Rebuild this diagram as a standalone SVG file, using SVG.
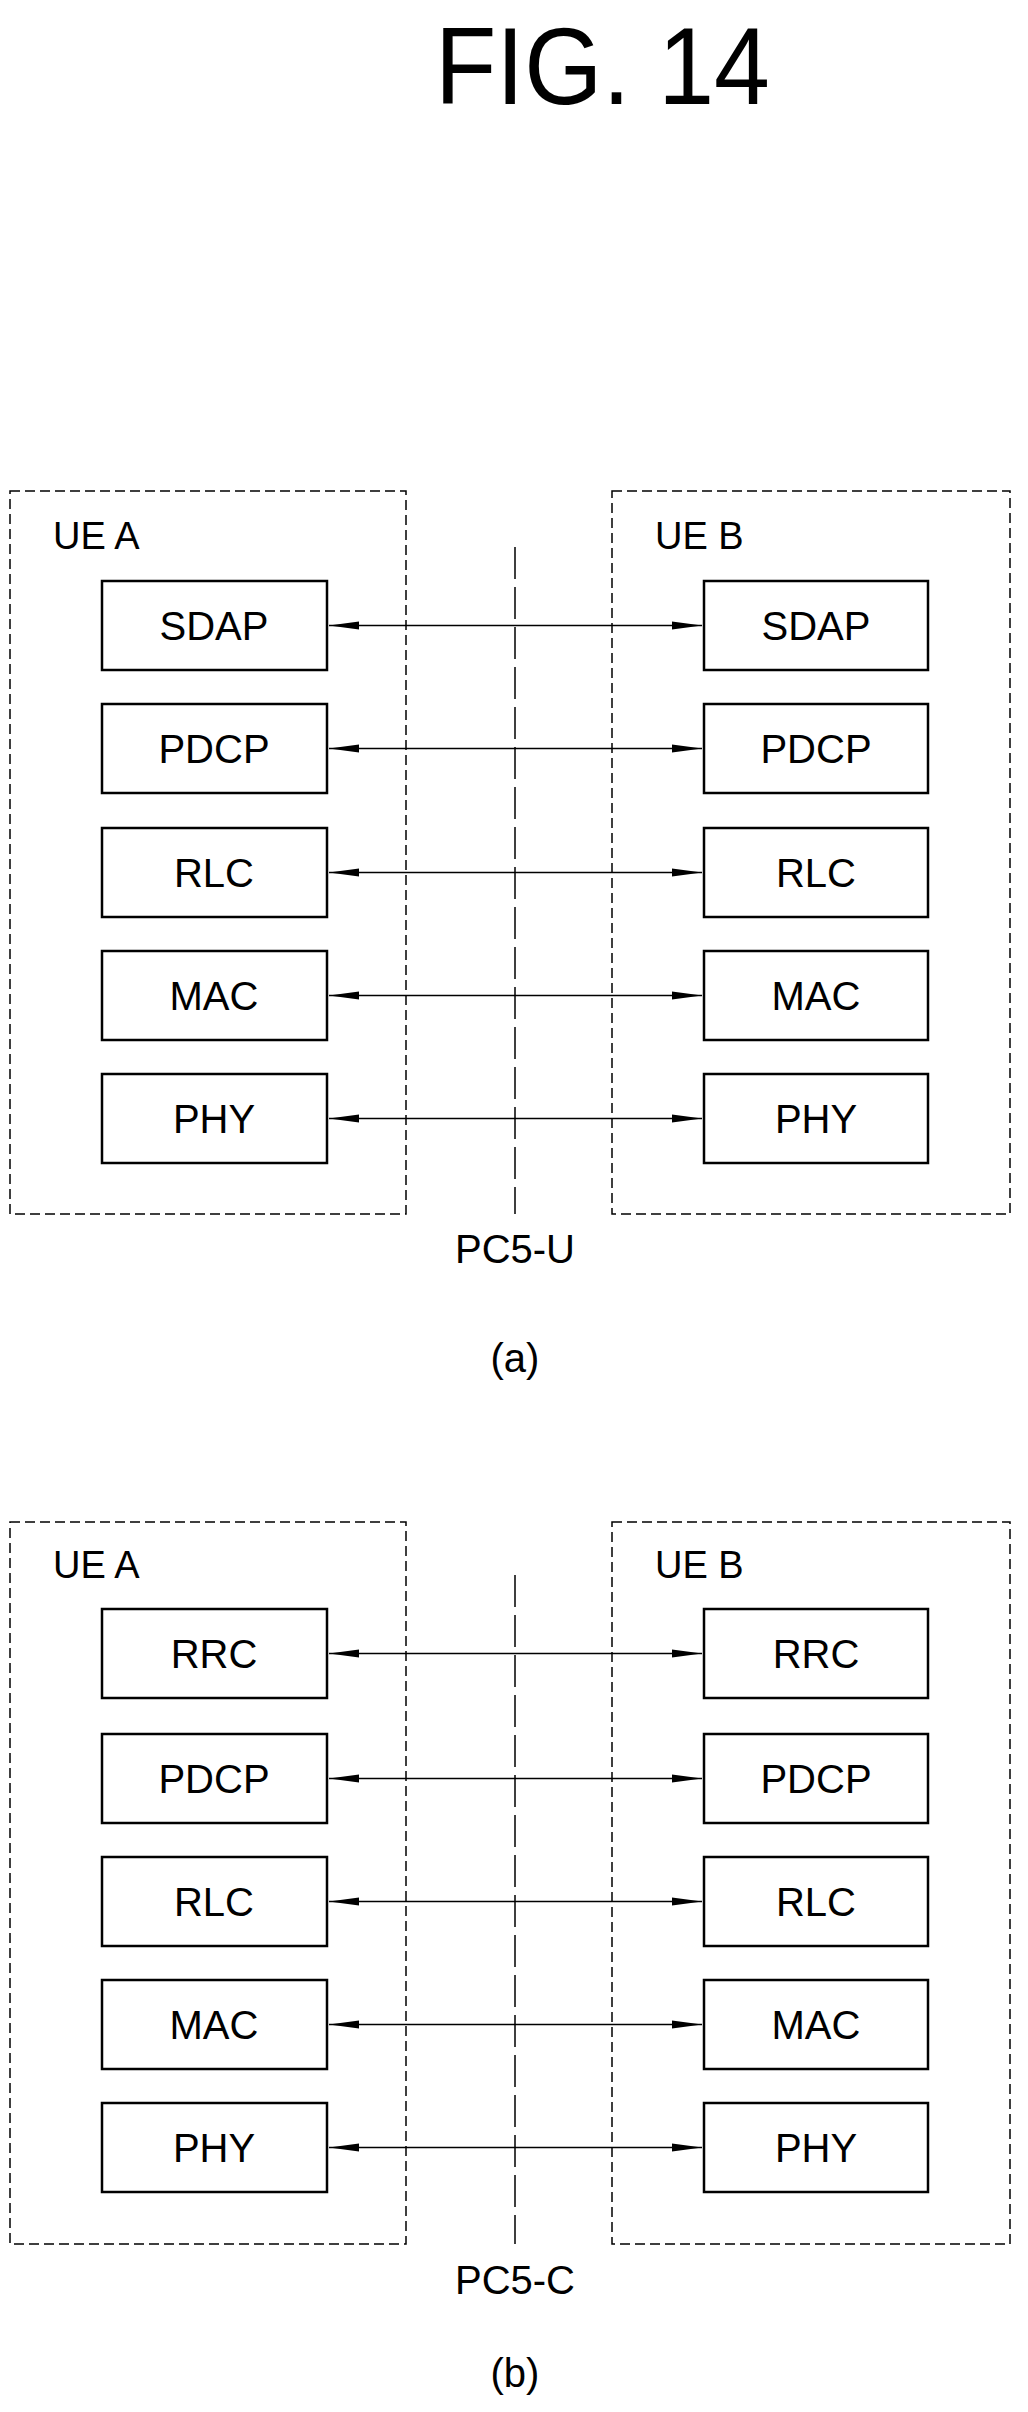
<svg xmlns="http://www.w3.org/2000/svg" width="1028" height="2412" viewBox="0 0 1028 2412">
<style>
text{font-family:"Liberation Sans",Arial,sans-serif;fill:#000}
.ue{fill:none;stroke:#000;stroke-width:1.5;stroke-dasharray:10 5}
.axis{stroke:#000;stroke-width:1.5;stroke-dasharray:32 8}
.box{fill:#fff;stroke:#000;stroke-width:2.5}
.lbl{font-size:40px;text-anchor:middle}
.big{font-size:38px}
.conn{stroke:#000;stroke-width:1.5;marker-start:url(#a);marker-end:url(#a)}
</style>
<defs>
<marker id="a" viewBox="0 0 30 10" refX="30" refY="5" markerWidth="30" markerHeight="10" markerUnits="userSpaceOnUse" orient="auto-start-reverse">
<path d="M0,1 L30,5 L0,9 Z" fill="#000"/>
</marker>
</defs>
<rect width="1028" height="2412" fill="#fff"/>
<text x="435" y="104" font-size="110" textLength="335" lengthAdjust="spacingAndGlyphs">FIG. 14</text>

<!-- (a) -->
<g id="ueA-a"><rect class="ue" x="10" y="491" width="396" height="723"/><text class="big" x="53" y="549">UE A</text></g>
<g id="ueB-a"><rect class="ue" x="612" y="491" width="398" height="723"/><text class="big" x="655" y="549">UE B</text></g>
<line class="axis" x1="515" y1="547" x2="515" y2="1214"/>
<g id="a-A-sdap"><rect class="box" x="102" y="581" width="225" height="89"/><text class="lbl" x="214" y="640">SDAP</text></g>
<g id="a-A-pdcp"><rect class="box" x="102" y="704" width="225" height="89"/><text class="lbl" x="214" y="763">PDCP</text></g>
<g id="a-A-rlc"><rect class="box" x="102" y="828" width="225" height="89"/><text class="lbl" x="214" y="887">RLC</text></g>
<g id="a-A-mac"><rect class="box" x="102" y="951" width="225" height="89"/><text class="lbl" x="214" y="1010">MAC</text></g>
<g id="a-A-phy"><rect class="box" x="102" y="1074" width="225" height="89"/><text class="lbl" x="214" y="1133">PHY</text></g>
<g id="a-B-sdap"><rect class="box" x="704" y="581" width="224" height="89"/><text class="lbl" x="816" y="640">SDAP</text></g>
<g id="a-B-pdcp"><rect class="box" x="704" y="704" width="224" height="89"/><text class="lbl" x="816" y="763">PDCP</text></g>
<g id="a-B-rlc"><rect class="box" x="704" y="828" width="224" height="89"/><text class="lbl" x="816" y="887">RLC</text></g>
<g id="a-B-mac"><rect class="box" x="704" y="951" width="224" height="89"/><text class="lbl" x="816" y="1010">MAC</text></g>
<g id="a-B-phy"><rect class="box" x="704" y="1074" width="224" height="89"/><text class="lbl" x="816" y="1133">PHY</text></g>
<text class="lbl" x="515" y="1263">PC5-U</text>
<text class="lbl" x="515" y="1372">(a)</text>

<!-- (b) -->
<g id="ueA-b"><rect class="ue" x="10" y="1522" width="396" height="722"/><text class="big" x="53" y="1578">UE A</text></g>
<g id="ueB-b"><rect class="ue" x="612" y="1522" width="398" height="722"/><text class="big" x="655" y="1578">UE B</text></g>
<line class="axis" x1="515" y1="1575" x2="515" y2="2244"/>
<g id="b-A-rrc"><rect class="box" x="102" y="1609" width="225" height="89"/><text class="lbl" x="214" y="1668">RRC</text></g>
<g id="b-A-pdcp"><rect class="box" x="102" y="1734" width="225" height="89"/><text class="lbl" x="214" y="1793">PDCP</text></g>
<g id="b-A-rlc"><rect class="box" x="102" y="1857" width="225" height="89"/><text class="lbl" x="214" y="1916">RLC</text></g>
<g id="b-A-mac"><rect class="box" x="102" y="1980" width="225" height="89"/><text class="lbl" x="214" y="2039">MAC</text></g>
<g id="b-A-phy"><rect class="box" x="102" y="2103" width="225" height="89"/><text class="lbl" x="214" y="2162">PHY</text></g>
<g id="b-B-rrc"><rect class="box" x="704" y="1609" width="224" height="89"/><text class="lbl" x="816" y="1668">RRC</text></g>
<g id="b-B-pdcp"><rect class="box" x="704" y="1734" width="224" height="89"/><text class="lbl" x="816" y="1793">PDCP</text></g>
<g id="b-B-rlc"><rect class="box" x="704" y="1857" width="224" height="89"/><text class="lbl" x="816" y="1916">RLC</text></g>
<g id="b-B-mac"><rect class="box" x="704" y="1980" width="224" height="89"/><text class="lbl" x="816" y="2039">MAC</text></g>
<g id="b-B-phy"><rect class="box" x="704" y="2103" width="224" height="89"/><text class="lbl" x="816" y="2162">PHY</text></g>
<text class="lbl" x="515" y="2294">PC5-C</text>
<text class="lbl" x="515" y="2387">(b)</text>

<g id="connectors">
<line class="conn" x1="329" y1="625.5" x2="702" y2="625.5"/>
<line class="conn" x1="329" y1="748.5" x2="702" y2="748.5"/>
<line class="conn" x1="329" y1="872.5" x2="702" y2="872.5"/>
<line class="conn" x1="329" y1="995.5" x2="702" y2="995.5"/>
<line class="conn" x1="329" y1="1118.5" x2="702" y2="1118.5"/>
<line class="conn" x1="329" y1="1653.5" x2="702" y2="1653.5"/>
<line class="conn" x1="329" y1="1778.5" x2="702" y2="1778.5"/>
<line class="conn" x1="329" y1="1901.5" x2="702" y2="1901.5"/>
<line class="conn" x1="329" y1="2024.5" x2="702" y2="2024.5"/>
<line class="conn" x1="329" y1="2147.5" x2="702" y2="2147.5"/>
</g>
</svg>
